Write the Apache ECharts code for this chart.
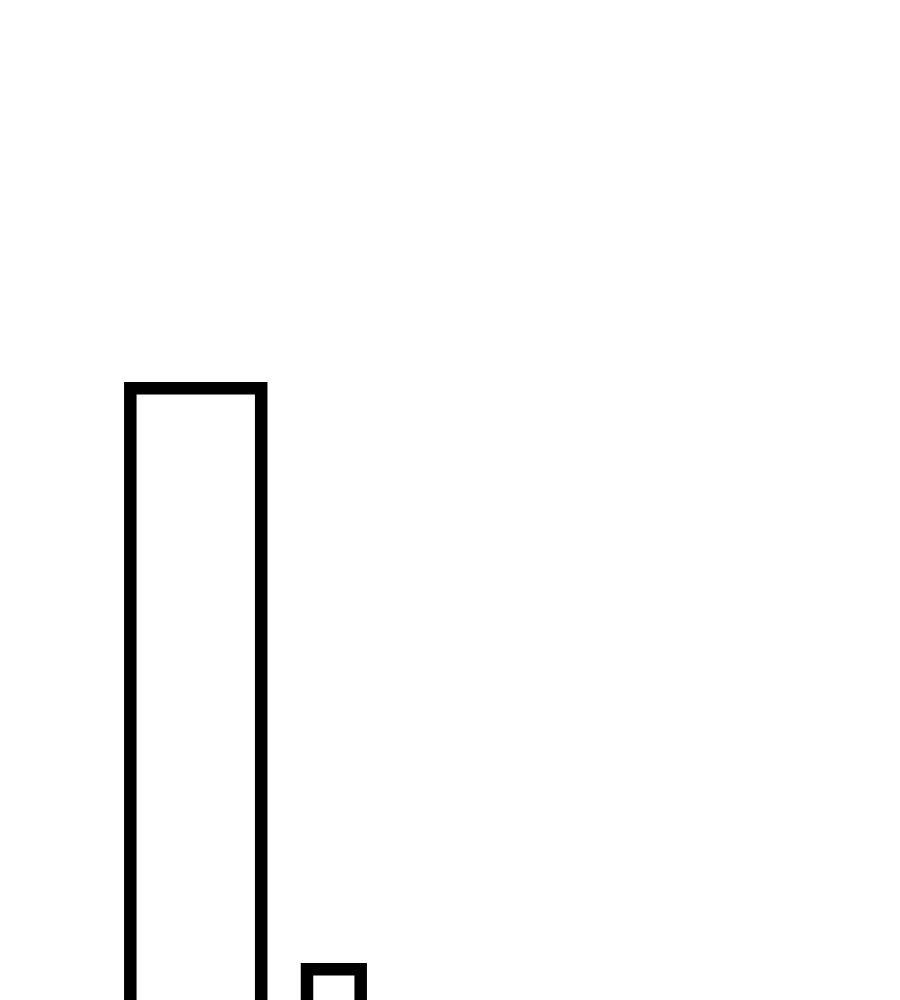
<!DOCTYPE html>
<html>
<head>
<meta charset="utf-8">
<script src="https://cdn.jsdelivr.net/npm/echarts@6/dist/echarts.min.js"></script>
<style>html,body{margin:0;padding:0;background:#fff;}#c{width:900px;height:1000px;}</style>
</head>
<body>
<div id="c"></div>
<script>
const binStarts = [13.03, 30.7];
const binEnds = [26.12, 36.07];
const values = [71.17, 13.07];

const chart = echarts.init(document.getElementById('c'), null, {renderer: 'canvas'});
const data = values.map((v, i) => [binStarts[i], binEnds[i], v]);
chart.setOption({
  animation: false,
  backgroundColor: '#ffffff',
  grid: {left: 0, right: 0, top: 0, bottom: 0},
  xAxis: {type: 'value', min: 0, max: 90, show: false},
  yAxis: {type: 'value', min: 10, max: 110, show: false},
  series: [{
    type: 'custom',
    clip: false,
    data: data,
    renderItem: function (params, api) {
      const p0 = api.coord([api.value(0), api.value(2)]);
      const p1 = api.coord([api.value(1), 0]);
      return {
        type: 'rect',
        shape: {x: p0[0], y: p0[1], width: p1[0] - p0[0], height: p1[1] - p0[1]},
        style: {fill: '#ffffff', stroke: '#000000', lineWidth: 12.5}
      };
    }
  }]
});
</script>
</body>
</html>
